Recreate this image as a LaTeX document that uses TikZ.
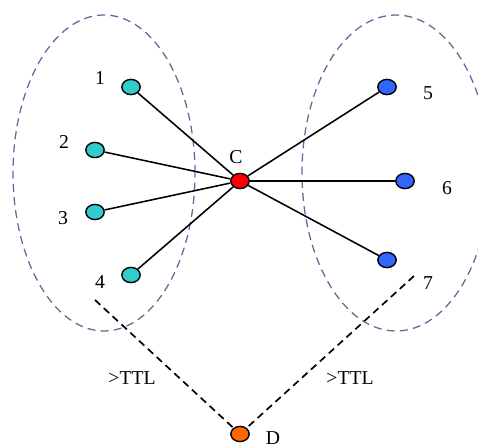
\documentclass[tikz,border=0pt]{standalone}
\usepackage{fontspec}
\setmainfont{Liberation Serif}
\usetikzlibrary{shapes.geometric}
\definecolor{tealnode}{RGB}{51,204,204}
\definecolor{bluenode}{RGB}{51,102,255}
\definecolor{orangenode}{RGB}{255,102,0}
\definecolor{regionline}{RGB}{102,102,153}
\tikzset{
  host/.style={draw, ellipse, line width=1pt, inner sep=0pt, minimum width=0.46cm, minimum height=0.38cm},
  tag/.style={inner sep=0pt, font=\fontsize{14}{16}\selectfont},
  region/.style={regionline, line width=0.9pt, dash pattern=on 0.2cm off 0.13cm},
}
\begin{document}
\begin{tikzpicture}
        \useasboundingbox (0,0) rectangle (11.95,11.2);
        \begin{scope}
        \clip (0,0) rectangle (11.95,11.2);
        \draw[region] (2.6,6.875) ellipse (2.275 and 3.95);
        \draw[region] (9.9,6.875) ellipse (2.35 and 3.95);
        \end{scope}
        % sender and neighbours
        \node[host, fill=red] (c) at (6.0,6.675) {};
        \node[host, fill=tealnode] (n1) at (3.275,9.025) {};
        \node[host, fill=tealnode] (n2) at (2.375,7.45) {};
        \node[host, fill=tealnode] (n3) at (2.375,5.9) {};
        \node[host, fill=tealnode] (n4) at (3.275,4.325) {};
        \node[host, fill=bluenode] (n5) at (9.675,9.025) {};
        \node[host, fill=bluenode] (n6) at (10.125,6.675) {};
        \node[host, fill=bluenode] (n7) at (9.675,4.7) {};
        \node[host, fill=orangenode] (d) at (6.0,0.35) {};
        \foreach \n in {n1,n2,n3,n4,n5,n6,n7}
            \draw[line width=1.1pt] (c) -- (\n);
        % paths beyond the TTL
        \coordinate (p4) at (2.375,3.7);
        \coordinate (p7) at (10.35,4.3);
        \draw[line width=1.2pt, dash pattern=on 0.18cm off 0.12cm] (p4) -- (d);
        \draw[line width=1.2pt, dash pattern=on 0.18cm off 0.12cm] (p7) -- (d);
        \node[tag] (l1) at (2.5,9.25) {1};
        \node[tag] (l2) at (1.6,7.65) {2};
        \node[tag] (l3) at (1.575,5.75) {3};
        \node[tag] (l4) at (2.5,4.15) {4};
        \node[tag] (l5) at (10.7,8.875) {5};
        \node[tag] (l6) at (11.175,6.5) {6};
        \node[tag] (l7) at (10.7,4.125) {7};
        \node[tag] (lc) at (5.9,7.275) {C};
        \node[tag] (ld) at (6.825,0.24) {D};
        \node[tag] (ttl1) at (3.3,1.75) {>TTL};
        \node[tag] (ttl2) at (8.75,1.75) {>TTL};
    \end{tikzpicture}
\end{document}
